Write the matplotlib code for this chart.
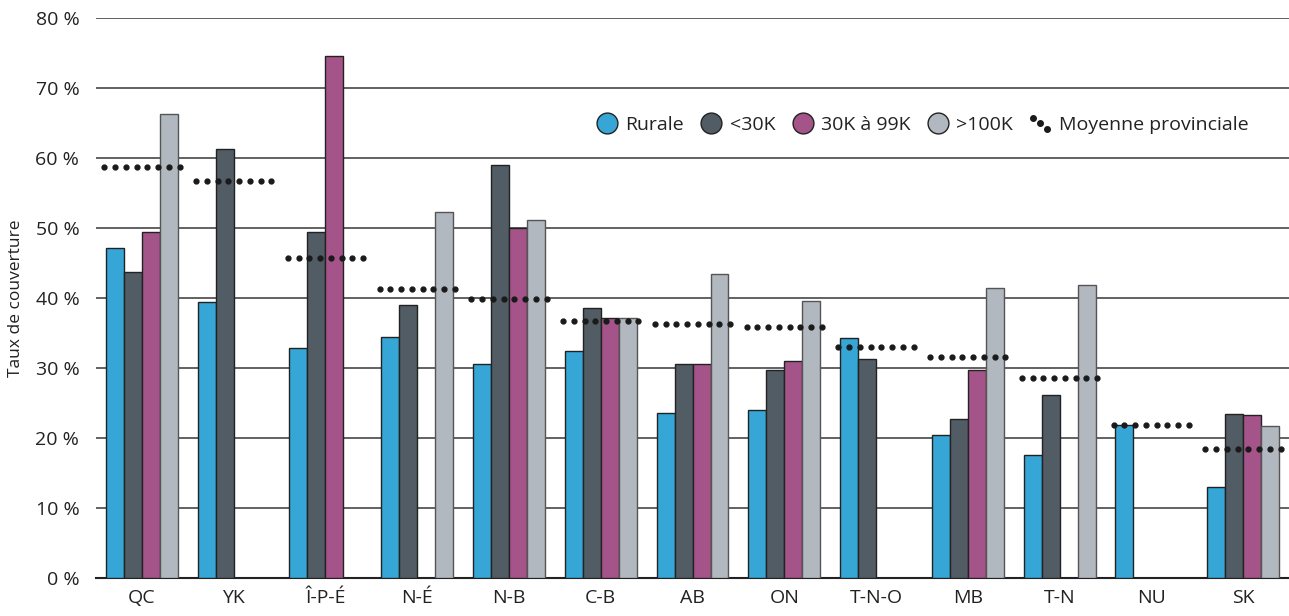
import numpy as np
import matplotlib
matplotlib.use('Agg')
import matplotlib.pyplot as plt
from matplotlib.legend_handler import HandlerBase
from matplotlib.lines import Line2D

provinces = ['QC', 'YK', 'Î-P-É', 'N-É', 'N-B', 'C-B', 'AB', 'ON', 'T-N-O', 'MB', 'T-N', 'NU', 'SK']
rurale = [47.1, 39.4, 32.9, 34.4, 30.6, 32.4, 23.6, 24.0, 34.3, 20.4, 17.6, 21.9, 13.0]
moins30k = [43.7, 61.3, 49.4, 39.0, 59.0, 38.6, 30.6, 29.7, 31.3, 22.7, 26.1, np.nan, 23.4]
de30a99k = [49.4, np.nan, 74.6, np.nan, 50.0, 37.1, 30.6, 31.0, np.nan, 29.7, np.nan, np.nan, 23.3]
plus100k = [66.3, np.nan, np.nan, 52.3, 51.1, 37.1, 43.4, 39.6, np.nan, 41.4, 41.9, np.nan, 21.7]
moyenne = [58.7, 56.7, 45.7, 41.3, 39.9, 36.7, 36.3, 35.9, 33.0, 31.6, 28.6, 21.9, 18.4]

series = [('Rurale', rurale, '#36a6d6', '#222222'),
          ('<30K', moins30k, '#515c64', '#222222'),
          ('30K à 99K', de30a99k, '#a5548a', '#222222'),
          ('>100K', plus100k, '#b1b8bf', '#555555')]

plt.rcParams['font.family'] = ['Open Sans', 'DejaVu Sans']

fig = plt.figure(figsize=(12.89, 6.16), dpi=100)
ax = fig.add_axes([0.0745, 0.0617, 0.9255, 0.909])

x = np.arange(len(provinces))
w = 0.196
for i, (name, vals, col, ec) in enumerate(series):
    ax.bar(x + (i - 1.5) * w, vals, w, color=col, edgecolor=ec, linewidth=1,
           label=name, zorder=3)

# moyenne provinciale : 8 points sur la largeur du groupe
for xi, m in zip(x, moyenne):
    xs = np.linspace(xi - 0.41, xi + 0.41, 8)
    ax.plot(xs, np.full_like(xs, m), linestyle='none', marker='o',
            markersize=3.5, color='#1a1a1a', zorder=4)

ax.set_xlim(-0.5, 12.5)
ax.set_ylim(0, 80)
ax.set_yticks(np.arange(0, 81, 10))
ax.set_yticklabels([f'{v} %' for v in range(0, 81, 10)], fontsize=14, color='#222222')
ax.set_xticks(x)
ax.set_xticklabels(provinces, fontsize=14, color='#222222')
ax.tick_params(axis='both', length=0)
ax.tick_params(axis='x', pad=8)
ax.tick_params(axis='y', pad=12)
ax.grid(axis='y', color='#555555', lw=1.3, zorder=0)
for s in ['top', 'right', 'left']:
    ax.spines[s].set_visible(False)
ax.spines['bottom'].set_color('#222222')
ax.spines['bottom'].set_linewidth(1.5)
ax.set_ylabel('Taux de couverture', fontsize=12.5, color='#222222', labelpad=8)


class DotsHandler(HandlerBase):
    def create_artists(self, legend, orig_handle, xdescent, ydescent,
                       width, height, fontsize, trans):
        xs = np.array([0.2, 0.5, 0.8]) * width - xdescent
        ys = np.array([0.85, 0.55, 0.1]) * height - ydescent
        ln = Line2D(xs, ys, linestyle='none', marker='o', markersize=4,
                    color='#1a1a1a', transform=trans)
        return [ln]


handles = [Line2D([], [], linestyle='none', marker='o', markersize=15,
                  markerfacecolor=col, markeredgecolor='#222222', markeredgewidth=1)
           for _, _, col, _ in series]
labels = [s[0] for s in series]
handles.append(object())
labels.append('Moyenne provinciale')
leg = ax.legend(handles, labels, handler_map={object: DotsHandler()},
                loc='center right', bbox_to_anchor=(0.982, 0.797),
                bbox_transform=fig.transFigure, ncol=5, frameon=False,
                fontsize=14, handlelength=1.2, handletextpad=0.35,
                columnspacing=0.8)
for t in leg.get_texts():
    t.set_color('#222222')

fig.savefig('out.png', dpi=100)
